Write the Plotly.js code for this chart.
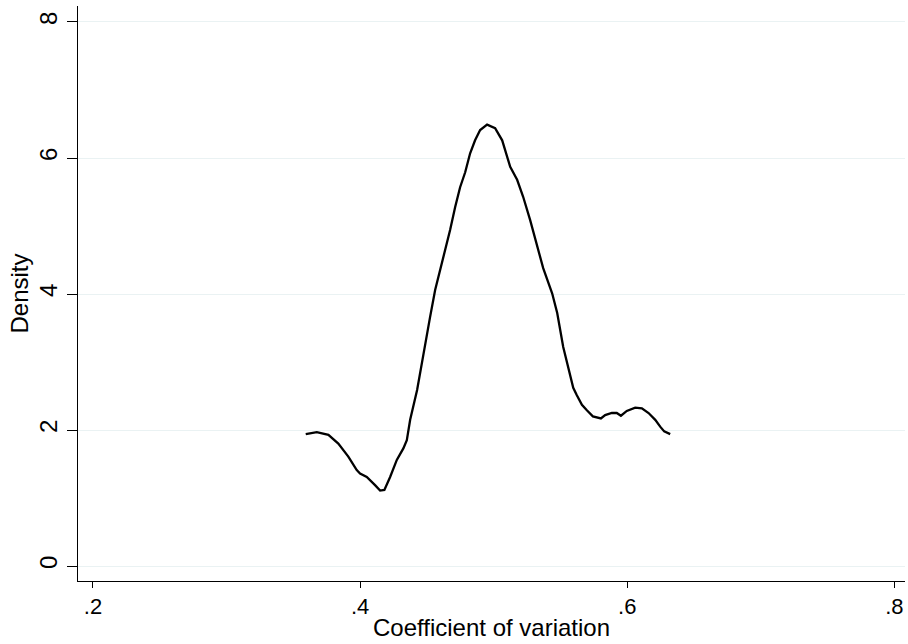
<!DOCTYPE html>
<html><head><meta charset="utf-8">
<script src="https://cdn.plot.ly/plotly-3.0.1.min.js"></script>
<style>html,body{margin:0;padding:0;background:#fff}#chart{width:908px;height:644px}</style>
</head><body><div id="chart"></div>
<script>
// Kernel density estimate of coefficient of variation
const cvValues = [0.3593,0.3676,0.3763,0.3837,0.3912,0.3975,0.4000,0.4050,0.4112,0.4150,0.4182,0.4225,0.4275,0.4324,0.4350,0.4375,0.4427,0.4487,0.4524,0.4562,0.4599,0.4622,0.4674,0.4712,0.4749,0.4787,0.4824,0.4861,0.4899,0.4951,0.5011,0.5064,0.5101,0.5124,0.5176,0.5221,0.5273,0.5326,0.5371,0.5438,0.5476,0.5521,0.5573,0.5596,0.5623,0.5661,0.5698,0.5743,0.5803,0.5835,0.5885,0.5922,0.5953,0.5997,0.6060,0.6110,0.6160,0.6210,0.6247,0.6277,0.6322];
const densityValues = [1.94,1.97,1.93,1.80,1.61,1.41,1.36,1.31,1.19,1.11,1.12,1.31,1.56,1.73,1.85,2.15,2.59,3.28,3.66,4.06,4.35,4.50,4.94,5.28,5.57,5.79,6.07,6.26,6.41,6.49,6.44,6.26,6.01,5.87,5.68,5.43,5.09,4.69,4.38,4.01,3.72,3.22,2.78,2.62,2.51,2.37,2.29,2.20,2.17,2.22,2.25,2.25,2.21,2.28,2.33,2.32,2.25,2.15,2.05,1.98,1.94];
const xTickVals = [0.2,0.4,0.6,0.8];
const xTickText = ['.2','.4','.6','.8'];
const yTickVals = [0,2,4,6,8];
const yTickText = ['0','2','4','6','8'];
const xTitle = 'Coefficient of variation';
const yTitle = 'Density';

const font = {family:'"Liberation Sans", Arial, sans-serif', color:'#000'};
Plotly.newPlot('chart', [{
  x: cvValues, y: densityValues, type:'scatter', mode:'lines',
  line:{color:'#000', width:2.3}, hoverinfo:'skip'
}], {
  width:908, height:644,
  margin:{l:78, r:3, t:6, b:63},
  paper_bgcolor:'#fff', plot_bgcolor:'#fff',
  showlegend:false,
  font: Object.assign({size:24}, font),
  xaxis:{
    range:[0.1888,0.808], tickvals:xTickVals, ticktext:xTickText,
    ticks:'outside', ticklen:6, tickwidth:1, tickcolor:'#000',
    showline:true, linecolor:'#000', linewidth:1, showgrid:false, zeroline:false,
    tickfont:{size:22}, automargin:false
  },
  yaxis:{
    range:[-0.22,8.235], tickvals:yTickVals, ticktext:yTickText, tickangle:-90,
    ticks:'outside', ticklen:10, tickwidth:1, tickcolor:'#000',
    showline:true, linecolor:'#000', linewidth:1,
    showgrid:true, gridcolor:'#eaf2f3', gridwidth:1, zeroline:false,
    tickfont:{size:24}, automargin:false,
    title:{text:yTitle, font:{size:24}, standoff:0}
  },
  annotations:[{
    text:xTitle, xref:'paper', yref:'paper', x:0.5, y:-0.081,
    xanchor:'center', yanchor:'middle', showarrow:false, font:{size:24}
  }]
}, {staticPlot:true});
</script></body></html>
